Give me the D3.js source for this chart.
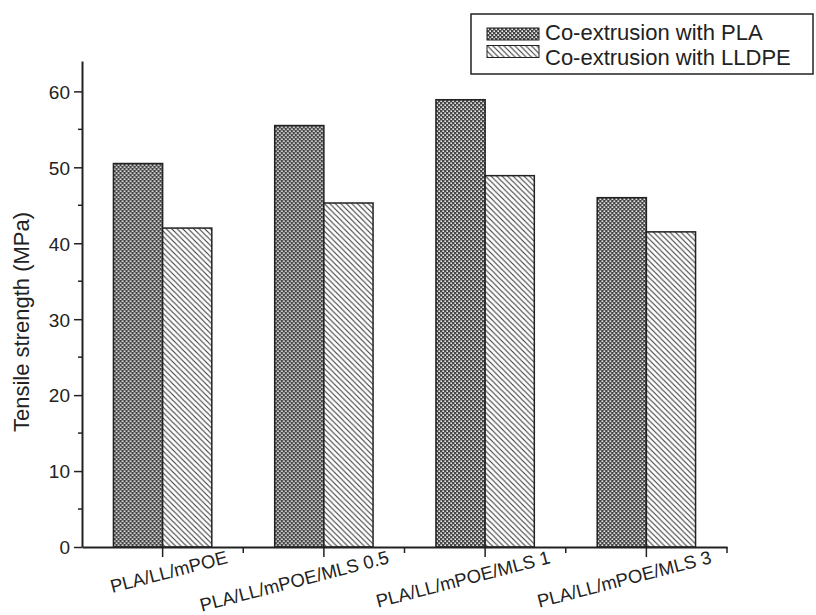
<!DOCTYPE html>
<html>
<head>
<meta charset="utf-8">
<script src="https://cdn.jsdelivr.net/npm/d3@7"></script>
<style>
  body { margin:0; background:#fff; }
  text { font-family:"Liberation Sans", Arial, sans-serif; fill:#222; }
</style>
</head>
<body>
<div id="container"></div>
<script>
var categories = ['PLA/LL/mPOE', 'PLA/LL/mPOE/MLS 0.5', 'PLA/LL/mPOE/MLS 1', 'PLA/LL/mPOE/MLS 3'];
var seriesNames = ['Co-extrusion with PLA', 'Co-extrusion with LLDPE'];
var plaValues = [50.5, 55.5, 58.9, 46.0];
var lldpeValues = [42.0, 45.3, 48.9, 41.5];
var yTicks = [0, 10, 20, 30, 40, 50, 60];
var yMinorTicks = [5, 15, 25, 35, 45, 55];

var vis = {
	w:816,
	h:615,
	margin:{ top:61, left:82, right:89, bottom:68 },

	generate:function(){
		var self = vis;
		var m = self.margin;
		var ink = '#222';

		var svg = d3.select('#container').append('svg')
			.attr('width', self.w)
			.attr('height', self.h);

		// patterns
		var defs = svg.append('defs');
		var dots = defs.append('pattern')
			.attr('id','dots')
			.attr('patternUnits','userSpaceOnUse')
			.attr('width',4).attr('height',4);
		dots.append('rect').attr('width',4).attr('height',4).attr('fill','#454545');
		dots.append('rect').attr('x',0.4).attr('y',0.4).attr('width',1.6).attr('height',1.6).attr('fill','#f2f2f2');
		dots.append('rect').attr('x',2.4).attr('y',2.4).attr('width',1.6).attr('height',1.6).attr('fill','#f2f2f2');

		var s = 5.5;
		var hatch = defs.append('pattern')
			.attr('id','hatch')
			.attr('patternUnits','userSpaceOnUse')
			.attr('width',s).attr('height',s);
		hatch.append('rect').attr('width',s).attr('height',s).attr('fill','#fff');
		hatch.append('path')
			.attr('d','M-1,-1 L'+(s+1)+','+(s+1)+' M'+(s-1)+',-1 L'+(s+1)+',1 M-1,'+(s-1)+' L1,'+(s+1))
			.attr('stroke','#3a3a3a').attr('stroke-width',1.1);

		var x = d3.scaleBand()
			.domain(categories)
			.range([m.left, self.w - m.right])
			.padding(0);

		var y = d3.scaleLinear()
			.domain([0, 64])
			.range([self.h - m.bottom, m.top]);

		var groupW = x.bandwidth() * 0.61;
		var xs = d3.scaleBand()
			.domain(seriesNames)
			.range([0, groupW]);

		var fills = ['url(#dots)', 'url(#hatch)'];
		var rows = categories.map(function(c, i){
			return [
				{ cat:c, s:0, v:plaValues[i] },
				{ cat:c, s:1, v:lldpeValues[i] }
			];
		});

		var groups = svg.selectAll('g.group')
			.data(rows)
			.enter().append('g')
			.classed('group', true)
			.attr('transform', function(d){
				return 'translate(' + (x(d[0].cat) + x.bandwidth()/2 - groupW/2) + ',0)';
			});

		groups.selectAll('rect')
			.data(function(d){ return d; })
			.enter().append('rect')
			.attr('x', function(d){ return xs(seriesNames[d.s]); })
			.attr('width', xs.bandwidth())
			.attr('y', function(d){ return y(d.v); })
			.attr('height', function(d){ return y(0) - y(d.v); })
			.attr('fill', function(d){ return fills[d.s]; })
			.attr('stroke', ink)
			.attr('stroke-width', 1.5);

		// y axis
		var yAxis = svg.append('g')
			.attr('transform', 'translate(' + m.left + ',0)');
		yAxis.call(d3.axisLeft(y).tickValues(yTicks).tickSize(8).tickPadding(4).tickSizeOuter(0));
		yAxis.selectAll('g.minor')
			.data(yMinorTicks)
			.enter().append('line')
			.attr('x1', -4).attr('x2', 0)
			.attr('y1', function(d){ return y(d); })
			.attr('y2', function(d){ return y(d); })
			.attr('stroke', ink).attr('stroke-width', 1.5);
		yAxis.selectAll('text')
			.style('font-size', '19px')
			.attr('dy', '0.36em');

		// x axis
		var xAxis = svg.append('g')
			.attr('transform', 'translate(0,' + y(0) + ')');
		xAxis.call(d3.axisBottom(x).tickSize(10).tickSizeOuter(0));
		xAxis.selectAll('.tick text').remove();
		var bounds = categories.map(function(c){ return x(c); }).slice(1);
		bounds.push(x.range()[1]);
		xAxis.selectAll('line.minor')
			.data(bounds)
			.enter().append('line')
			.attr('x1', function(d){ return d; })
			.attr('x2', function(d){ return d; })
			.attr('y1', 0).attr('y2', 6)
			.attr('stroke', ink).attr('stroke-width', 1.5);

		svg.selectAll('.domain').attr('stroke', ink).attr('stroke-width', 2);
		svg.selectAll('.tick line').attr('stroke', ink).attr('stroke-width', 1.5);

		svg.selectAll('text.xlab')
			.data(categories)
			.enter().append('text')
			.classed('xlab', true)
			.attr('text-anchor', 'end')
			.attr('transform', function(d){
				return 'translate(' + (x(d) + x.bandwidth()/2 + 66) + ',' + (y(0) + 16) + ') rotate(-14.5)';
			})
			.style('font-size', '18.5px')
			.text(function(d){ return d; });

		// y label
		svg.append('text')
			.attr('transform', 'translate(29,' + ((y(0) + y(64))/2 + 18) + ') rotate(-90)')
			.attr('text-anchor', 'middle')
			.style('font-size', '22px')
			.text('Tensile strength (MPa)');

		// legend
		var lg = svg.append('g').attr('transform', 'translate(471,14)');
		lg.append('rect')
			.attr('width', 342).attr('height', 60)
			.attr('fill', '#fff').attr('stroke', ink).attr('stroke-width', 1.5);
		var items = lg.selectAll('g.item')
			.data(seriesNames)
			.enter().append('g')
			.classed('item', true)
			.attr('transform', function(d, i){ return 'translate(16,' + (14 + i*17.5) + ')'; });
		items.append('rect')
			.attr('width', 52).attr('height', 12)
			.attr('fill', function(d, i){ return fills[i]; })
			.attr('stroke', ink).attr('stroke-width', 1);
		items.append('text')
			.attr('x', 58)
			.attr('y', function(d, i){ return 12 + i*7.5; })
			.style('font-size', '22px')
			.text(function(d){ return d; });
	}
};

vis.generate();
</script>
</body>
</html>
